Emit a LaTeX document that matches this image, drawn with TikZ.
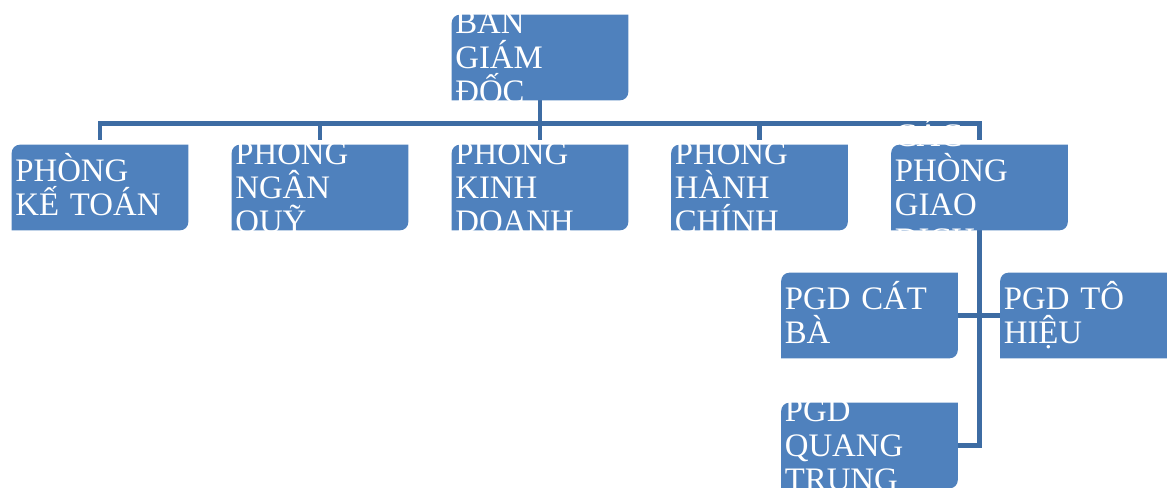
\documentclass[tikz,border=0pt]{standalone}
\usepackage{fontspec}
\newfontfamily\boxfont{Liberation Serif}
\usetikzlibrary{calc}
\pgfdeclarelayer{lines}
\pgfdeclarelayer{fills}
\pgfsetlayers{lines,fills,main}
\definecolor{boxblue}{HTML}{4F81BD}
\definecolor{linkblue}{HTML}{3D6CA3}
% same line box for every line of a label
\newcommand{\lnstrut}{\rule[-4.5pt]{0pt}{25.3pt}}
% box with rounded top left and bottom right corners
\newcommand{\diagfill}[1]{%
  \fill[boxblue] ($(#1.north west)+(0,-6pt)$) arc[start angle=180,end angle=90,radius=6pt]
    -- (#1.north east) -- ($(#1.south east)+(0,6pt)$) arc[start angle=0,end angle=-90,radius=6pt]
    -- (#1.south west) -- cycle;}

\begin{document}
\begin{tikzpicture}[x=0.75pt,y=-0.75pt,
    box/.style={minimum width=132pt,minimum height=63.75pt,inner sep=0pt},
    boxtext/.style={text=white,text width=127pt,align=left,inner sep=0pt,
      font={\boxfont\fontsize{24.6pt}{25.8pt}\selectfont\lineskiplimit=-50pt}},
    link/.style={draw=linkblue,line width=3.5pt}]
      \useasboundingbox (0,0) rectangle (1167,487);
      \node[box,label={[boxtext]center:{\lnstrut BAN\\\lnstrut GIÁM\\\lnstrut ĐỐC}}] (bgd) at (540,57.5) {};
      \node[box,label={[boxtext]center:{\lnstrut PHÒNG\\\lnstrut KẾ TOÁN}}] (pkt) at (100,187.5) {};
      \node[box,label={[boxtext]center:{\lnstrut PHÒNG\\\lnstrut NGÂN\\\lnstrut QUỸ}}] (pnq) at (320,187.5) {};
      \node[box,label={[boxtext]center:{\lnstrut PHÒNG\\\lnstrut KINH\\\lnstrut DOANH}}] (pkd) at (540,187.5) {};
      \node[box,label={[boxtext]center:{\lnstrut PHÒNG\\\lnstrut HÀNH\\\lnstrut CHÍNH}}] (phc) at (759.5,187.5) {};
      \node[box,label={[boxtext]center:{\lnstrut CÁC\\\lnstrut PHÒNG\\\lnstrut GIAO\\\lnstrut DỊCH}}] (pgd) at (979.5,187.5) {};
      \node[box,label={[boxtext]center:{\lnstrut PGD CÁT\\\lnstrut BÀ}}] (cb) at (869.5,315.5) {};
      \node[box,label={[boxtext]center:{\lnstrut PGD TÔ\\\lnstrut HIỆU}}] (th) at (1088.5,315.5) {};
      \node[box,label={[boxtext]center:{\lnstrut PGD\\\lnstrut QUANG\\\lnstrut TRUNG}}] (qt) at (869.5,445.5) {};
      \begin{pgfonlayer}{fills}
        \foreach \n in {bgd,pkt,pnq,pkd,phc,pgd,cb,th,qt}
          \diagfill{\n};
      \end{pgfonlayer}
      \begin{pgfonlayer}{lines}
        \foreach \n in {pkt,pnq,pkd,phc,pgd}
          \draw[link] (bgd.south) |- ([yshift=15.75pt]\n.north) -- ([yshift=3.75pt]\n.north);
        \draw[link] (pgd.south) |- (qt.east);
        \draw[link] (cb.east) -- (th.west);
      \end{pgfonlayer}
    \end{tikzpicture}
\end{document}
